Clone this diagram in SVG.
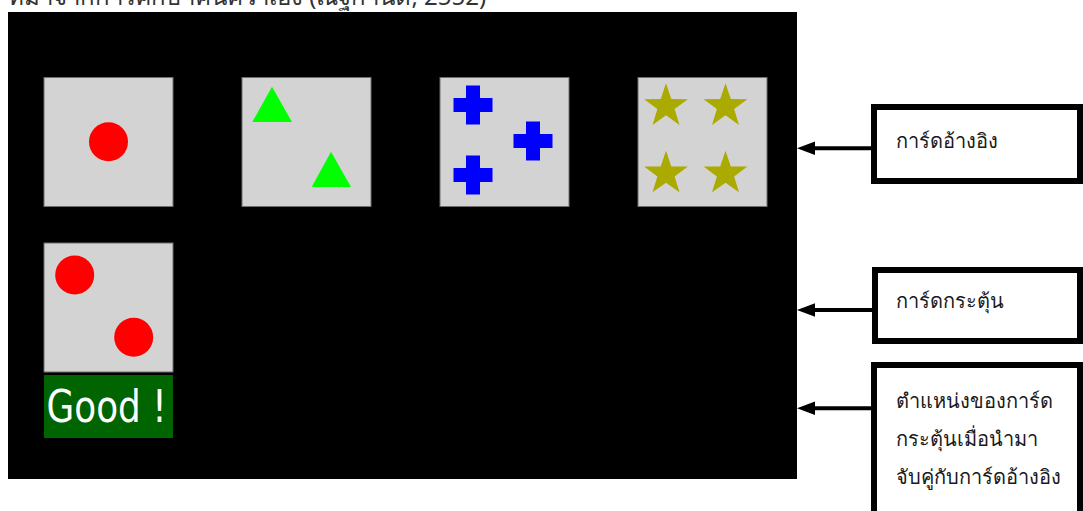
<svg xmlns="http://www.w3.org/2000/svg" width="1083" height="511" viewBox="0 0 1083 511">
<defs>
<style>
.card{fill:#d3d3d3;stroke:#6e6e6e;stroke-width:1}
.red{fill:#ff0000}
.grn{fill:#00ff00}
.blu{fill:#0000ff}
.olv{fill:#aaaa00}
.box{fill:#ffffff;stroke:#000000;stroke-width:6}
.lbl{font-family:"Noto Sans","DejaVu Sans",sans-serif;font-size:20px;font-weight:normal;fill:#1a1a1a}
.conn{stroke:#000000;stroke-width:4;fill:none}
</style>
<path id="cross" d="M-7,-19.5 H7 V-7 H19.5 V7 H7 V19.5 H-7 V7 H-19.5 V-7 H-7 Z"/>
<path id="star" d="M0,-23 L5.3,-7.3 L21.9,-7.1 L8.6,2.8 L13.5,18.6 L0,9 L-13.5,18.6 L-8.6,2.8 L-21.9,-7.1 L-5.3,-7.3 Z"/>
</defs>
<rect width="1083" height="511" fill="#ffffff"/>
<text x="8" y="5" font-family="Noto Sans, DejaVu Sans, sans-serif" font-size="24" fill="#333333">ที่มาจากการศึกษาค้นคว้าเอง (ณัฐกานต์, 2552)</text>
<rect id="screen" x="8" y="12" width="789" height="467" fill="#000000"/>
<g id="card-ref-1">
<rect class="card" x="44" y="77.5" width="129" height="129"/>
<circle class="red" cx="108.5" cy="141.7" r="19.5"/>
</g>
<g id="card-ref-2">
<rect class="card" x="242" y="77.5" width="129" height="129"/>
<polygon class="grn" points="272,86.7 292,122 252.3,122"/>
<polygon class="grn" points="331,151.7 351,187 311.7,187"/>
</g>
<g id="card-ref-3">
<rect class="card" x="440" y="77.5" width="129" height="129"/>
<use href="#cross" class="blu" x="473" y="105"/>
<use href="#cross" class="blu" x="533" y="141"/>
<use href="#cross" class="blu" x="473" y="175"/>
</g>
<g id="card-ref-4">
<rect class="card" x="638" y="77.5" width="129" height="129"/>
<use href="#star" class="olv" x="666" y="106.3"/>
<use href="#star" class="olv" x="725.5" y="106.3"/>
<use href="#star" class="olv" x="666" y="173.7"/>
<use href="#star" class="olv" x="725.5" y="173.7"/>
</g>
<g id="card-stimulus">
<rect class="card" x="44" y="243" width="129" height="129"/>
<circle class="red" cx="74.7" cy="275" r="19.5"/>
<circle class="red" cx="133.7" cy="337.3" r="19.5"/>
</g>
<g id="feedback">
<rect x="44" y="375" width="129" height="63" fill="#006400"/>
<text x="46.5" y="422.3" font-family="DejaVu Sans, sans-serif" font-size="44" fill="#ffffff" textLength="120" lengthAdjust="spacingAndGlyphs">Good !</text>
</g>
<g id="label-ref">
<rect class="box" x="874" y="107" width="206" height="74"/>
<text class="lbl" x="896" y="148">การ์ดอ้างอิง</text>
</g>
<g id="label-stim">
<rect class="box" x="875" y="270" width="205" height="71"/>
<text class="lbl" x="896" y="308">การ์ดกระตุ้น</text>
</g>
<g id="label-pos">
<rect class="box" x="874" y="365" width="206" height="160"/>
<text class="lbl" x="896" y="408">ตำแหน่งของการ์ด</text>
<text class="lbl" x="896" y="446">กระตุ้นเมื่อนำมา</text>
<text class="lbl" x="896" y="484">จับคู่กับการ์ดอ้างอิง</text>
</g>
<g id="connectors">
<line class="conn" x1="871" y1="148.3" x2="812" y2="148.3"/>
<path d="M797,148.3 L815,141.5 L815,155 Z" fill="#000000"/>
<line class="conn" x1="872" y1="310" x2="812" y2="310"/>
<path d="M797,310 L815,303.3 L815,316.7 Z" fill="#000000"/>
<line class="conn" x1="871" y1="408.3" x2="812" y2="408.3"/>
<path d="M797,408.3 L815,401.5 L815,415 Z" fill="#000000"/>
</g>
</svg>
